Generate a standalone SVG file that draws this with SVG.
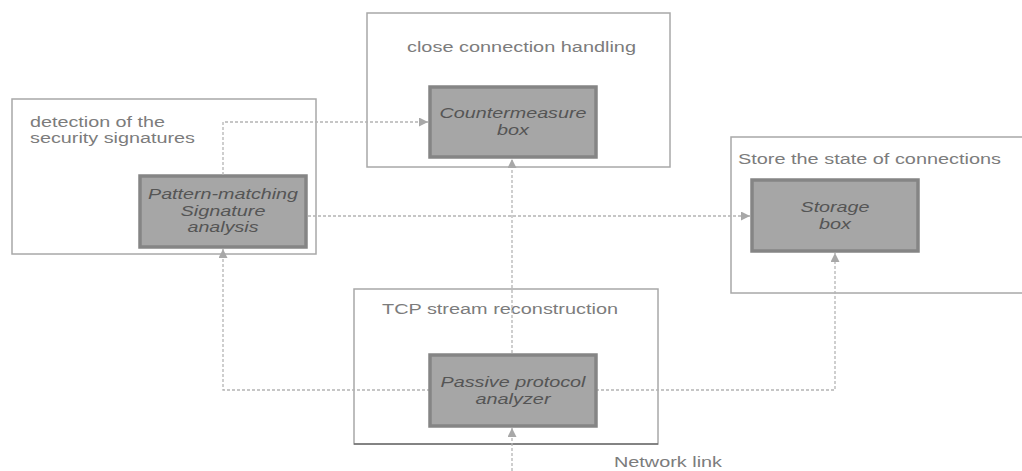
<svg xmlns="http://www.w3.org/2000/svg" width="1022" height="471" viewBox="0 0 1022 471">
  <style>
    .frame { fill: #ffffff; stroke: #a8a8a8; stroke-width: 1.5; }
    .core { fill: #a6a6a6; stroke: #858585; stroke-width: 3.5; }
    .label { font-family: "Liberation Sans", Arial, sans-serif; font-size: 14px; fill: #7c7c7c; }
    .name { font-family: "Liberation Sans", Arial, sans-serif; font-size: 14px; font-style: italic; fill: #555555; text-anchor: middle; }
    .link { fill: none; stroke: #b4b4b4; stroke-width: 1.3; stroke-dasharray: 3 2; marker-end: url(#head); }
  </style>
  <defs>
    <marker id="head" markerUnits="userSpaceOnUse" markerWidth="10" markerHeight="9" refX="9" refY="4.5" orient="auto">
      <path d="M0,0 L9,4.5 L0,9 z" fill="#a8a8a8"/>
    </marker>
  </defs>
  <rect width="1022" height="471" fill="#ffffff"/>

  <!-- Signature detection -->
  <g id="signature">
    <rect class="frame" x="12" y="99" width="304" height="155"/>
    <text class="label" x="30" y="127" textLength="135" lengthAdjust="spacingAndGlyphs">detection of the</text>
    <text class="label" x="30" y="143" textLength="165" lengthAdjust="spacingAndGlyphs">security signatures</text>
    <rect class="core" x="140" y="176" width="166" height="71"/>
    <text class="name" x="223" y="199" textLength="150" lengthAdjust="spacingAndGlyphs">Pattern-matching</text>
    <text class="name" x="223" y="216" textLength="85" lengthAdjust="spacingAndGlyphs">Signature</text>
    <text class="name" x="223" y="232" textLength="71" lengthAdjust="spacingAndGlyphs">analysis</text>
  </g>

  <!-- Countermeasure -->
  <g id="countermeasure">
    <rect class="frame" x="367" y="13" width="303" height="154"/>
    <text class="label" x="407" y="52" textLength="229" lengthAdjust="spacingAndGlyphs">close connection handling</text>
    <rect class="core" x="430" y="87" width="166" height="70"/>
    <text class="name" x="513" y="118" textLength="147" lengthAdjust="spacingAndGlyphs">Countermeasure</text>
    <text class="name" x="513" y="135" textLength="32" lengthAdjust="spacingAndGlyphs">box</text>
  </g>

  <!-- Storage -->
  <g id="storage">
    <rect class="frame" x="731" y="137" width="300" height="156"/>
    <text class="label" x="738" y="164" textLength="263" lengthAdjust="spacingAndGlyphs">Store the state of connections</text>
    <rect class="core" x="752" y="180" width="166" height="71"/>
    <text class="name" x="835" y="212" textLength="69" lengthAdjust="spacingAndGlyphs">Storage</text>
    <text class="name" x="835" y="229" textLength="32" lengthAdjust="spacingAndGlyphs">box</text>
  </g>

  <!-- Stream reconstruction -->
  <g id="analyzer">
    <rect class="frame" x="354" y="289" width="304" height="155"/>
    <line x1="354" y1="444" x2="658" y2="444" stroke="#4a4a4a" stroke-width="1.2"/>
    <text class="label" x="382" y="314" textLength="236" lengthAdjust="spacingAndGlyphs">TCP stream reconstruction</text>
  </g>

  <!-- Connectors -->
  <g id="connectors">
    <path class="link" d="M223,175 V122 H428"/>
    <path class="link" d="M308,216 H750"/>
    <path class="link" d="M512,353 V159"/>
    <path class="link" d="M430,390 H223 V249"/>
    <path class="link" d="M596,390 H835 V253"/>
    <path class="link" d="M512,471 V428"/>
  </g>

  <g id="analyzer-core">
    <rect class="core" x="430" y="355" width="166" height="71"/>
    <text class="name" x="513" y="387" textLength="145" lengthAdjust="spacingAndGlyphs">Passive protocol</text>
    <text class="name" x="513" y="404" textLength="75" lengthAdjust="spacingAndGlyphs">analyzer</text>
  </g>

  <g id="network-link">
    <text class="label" x="614" y="467" textLength="108" lengthAdjust="spacingAndGlyphs">Network link</text>
  </g>
</svg>
